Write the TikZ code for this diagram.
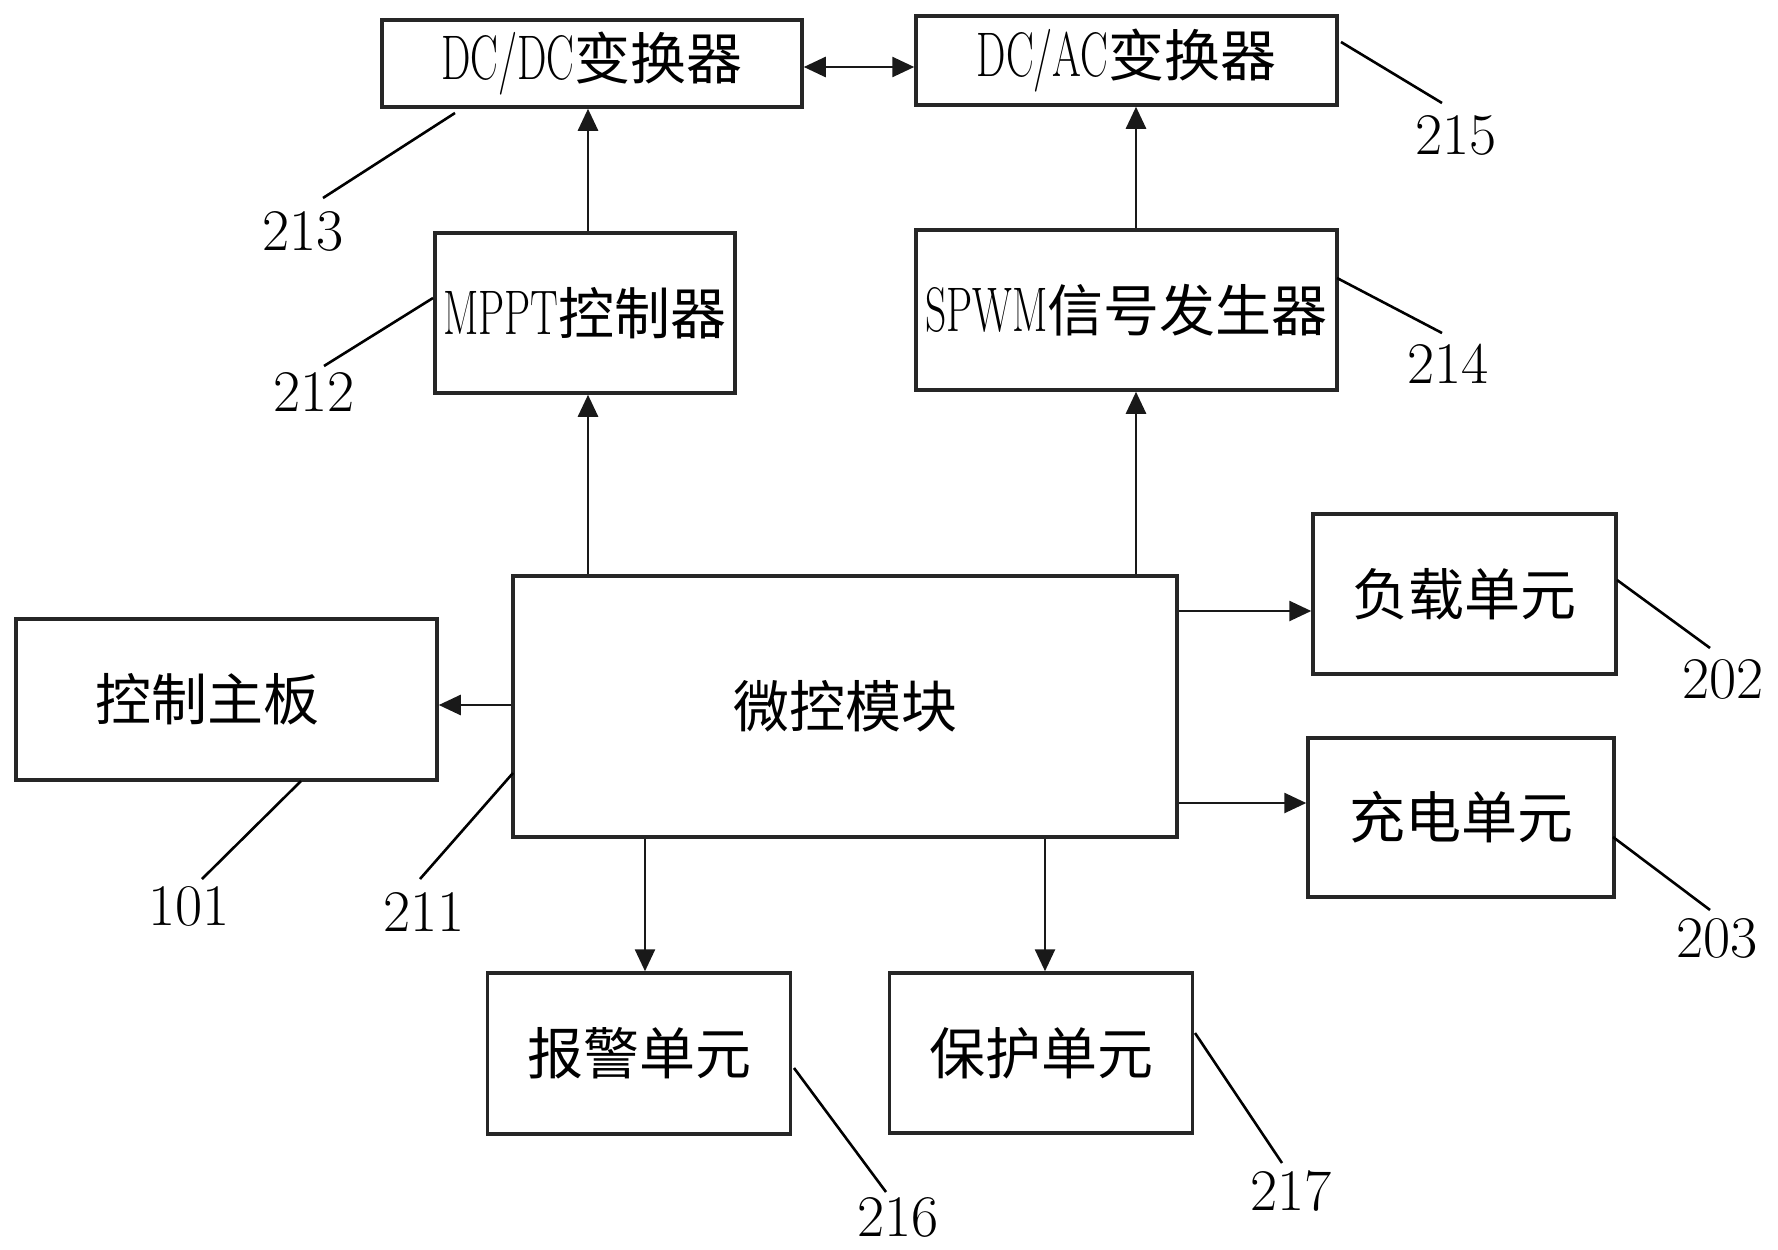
\documentclass[tikz,border=0pt]{standalone}
\usepackage{fontspec}
\usepackage{graphicx}
\newfontfamily\cjk{Noto Sans CJK SC}
\usetikzlibrary{arrows.meta}
\newcommand{\latn}[1]{\scalebox{0.66}[1]{\rmfamily\fontsize{63}{63}\selectfont #1}}
\newcommand{\numtxt}[1]{\scalebox{1.0}[1]{\rmfamily\fontsize{59}{59}\selectfont #1}}
\begin{document}
\begin{tikzpicture}[x=1pt,y=-1pt,
  box/.style={draw=black!85,line width=3.5pt,inner sep=0pt,font=\cjk\fontsize{56}{60}\selectfont},
  arr/.style={draw=black!90,line width=2.6pt,-{Triangle[length=22pt,width=20pt]}},
  darr/.style={draw=black!90,line width=2.6pt,{Triangle[length=22pt,width=20pt]}-{Triangle[length=22pt,width=20pt]}},
  lead/.style={draw=black,line width=2.6pt},
  num/.style={inner sep=0pt}]
\fill[white] (0,0) rectangle (1778,1250);
\useasboundingbox (0,0) rectangle (1778,1250);

% boxes
\node[box,minimum width=420pt,minimum height=87pt] (dcdc) at (592,63.5) {\latn{DC/DC}变换器};
\node[box,minimum width=421pt,minimum height=89pt] (dcac) at (1126.5,60.5) {\latn{DC/AC}变换器};
\node[box,minimum width=300pt,minimum height=160pt] (mppt) at (585,313) {\latn{MPPT}控制器};
\node[box,minimum width=421pt,minimum height=160pt] (spwm) at (1126.5,310) {\latn{SPWM}信号发生器};
\node[box,minimum width=664pt,minimum height=261pt] (mcu) at (845,706.5) {微控模块};
\node[box,minimum width=421pt,minimum height=161pt] (ctrl) at (226.5,699.5) {};
\node[font=\cjk\fontsize{56}{60}\selectfont,inner sep=0pt] (ctrltxt) at (207,699.5) {控制主板};
\node[box,minimum width=303pt,minimum height=160pt] (load) at (1464.5,594) {负载单元};
\node[box,minimum width=306pt,minimum height=159pt] (chg) at (1461,817.5) {充电单元};
\node[box,minimum width=303pt,minimum height=161pt] (alarm) at (639,1053.5) {报警单元};
\node[box,minimum width=303pt,minimum height=160pt] (prot) at (1041,1053) {保护单元};

% connectors
\draw[darr] ([yshift=-3.5pt]dcdc.east) -- ([yshift=-3.5pt]dcdc.east -| dcac.west);
\draw[arr] ([xshift=3pt]mppt.north) -- ([xshift=3pt]mppt.north |- dcdc.south);
\draw[arr] ([xshift=9.5pt]spwm.north) -- ([xshift=9.5pt]spwm.north |- dcac.south);
\draw[arr] ([xshift=3pt]mppt.south |- mcu.north) -- ([xshift=3pt]mppt.south);
\draw[arr] ([xshift=9.5pt]spwm.south |- mcu.north) -- ([xshift=9.5pt]spwm.south);
\draw[arr] ([yshift=-5.5pt]ctrl.east -| mcu.west) -- ([yshift=-5.5pt]ctrl.east);
\draw[arr] ([yshift=-17pt]load.west -| mcu.east) -- ([yshift=-17pt]load.west);
\draw[arr] ([yshift=14.5pt]chg.west -| mcu.east) -- ([yshift=14.5pt]chg.west);
\draw[arr] ([xshift=6pt]alarm.north |- mcu.south) -- ([xshift=6pt]alarm.north);
\draw[arr] ([xshift=4pt]prot.north |- mcu.south) -- ([xshift=4pt]prot.north);

% labels
\node[num] (n213) at (303,231) {\numtxt{213}};
\node[num] (n212) at (314,392) {\numtxt{212}};
\node[num] (n215) at (1456,135) {\numtxt{215}};
\node[num] (n214) at (1448,364) {\numtxt{214}};
\node[num] (n101) at (189,906) {\numtxt{101}};
\node[num] (n211) at (424,912) {\numtxt{211}};
\node[num] (n202) at (1723,679) {\numtxt{202}};
\node[num] (n203) at (1717,938) {\numtxt{203}};
\node[num] (n216) at (898,1217) {\numtxt{216}};
\node[num] (n217) at (1291,1191) {\numtxt{217}};

% leader end points
\coordinate (a213) at (455,113); \coordinate (b213) at (323,198);
\coordinate (a212) at (433,298); \coordinate (b212) at (324,366);
\coordinate (a215) at (1341,42); \coordinate (b215) at (1442,103);
\coordinate (a214) at (1337,278); \coordinate (b214) at (1442,333);
\coordinate (a101) at (301,781); \coordinate (b101) at (202,879);
\coordinate (a211) at (513,773); \coordinate (b211) at (420,879);
\coordinate (a202) at (1617,580); \coordinate (b202) at (1710,648);
\coordinate (a203) at (1613,837); \coordinate (b203) at (1710,910);
\coordinate (a216) at (794,1068); \coordinate (b216) at (886,1192);
\coordinate (a217) at (1195,1033); \coordinate (b217) at (1282,1163);
\foreach \n in {213,212,215,214,101,211,202,203,216,217}
  \draw[lead] (a\n) -- (b\n);
\end{tikzpicture}
\end{document}
